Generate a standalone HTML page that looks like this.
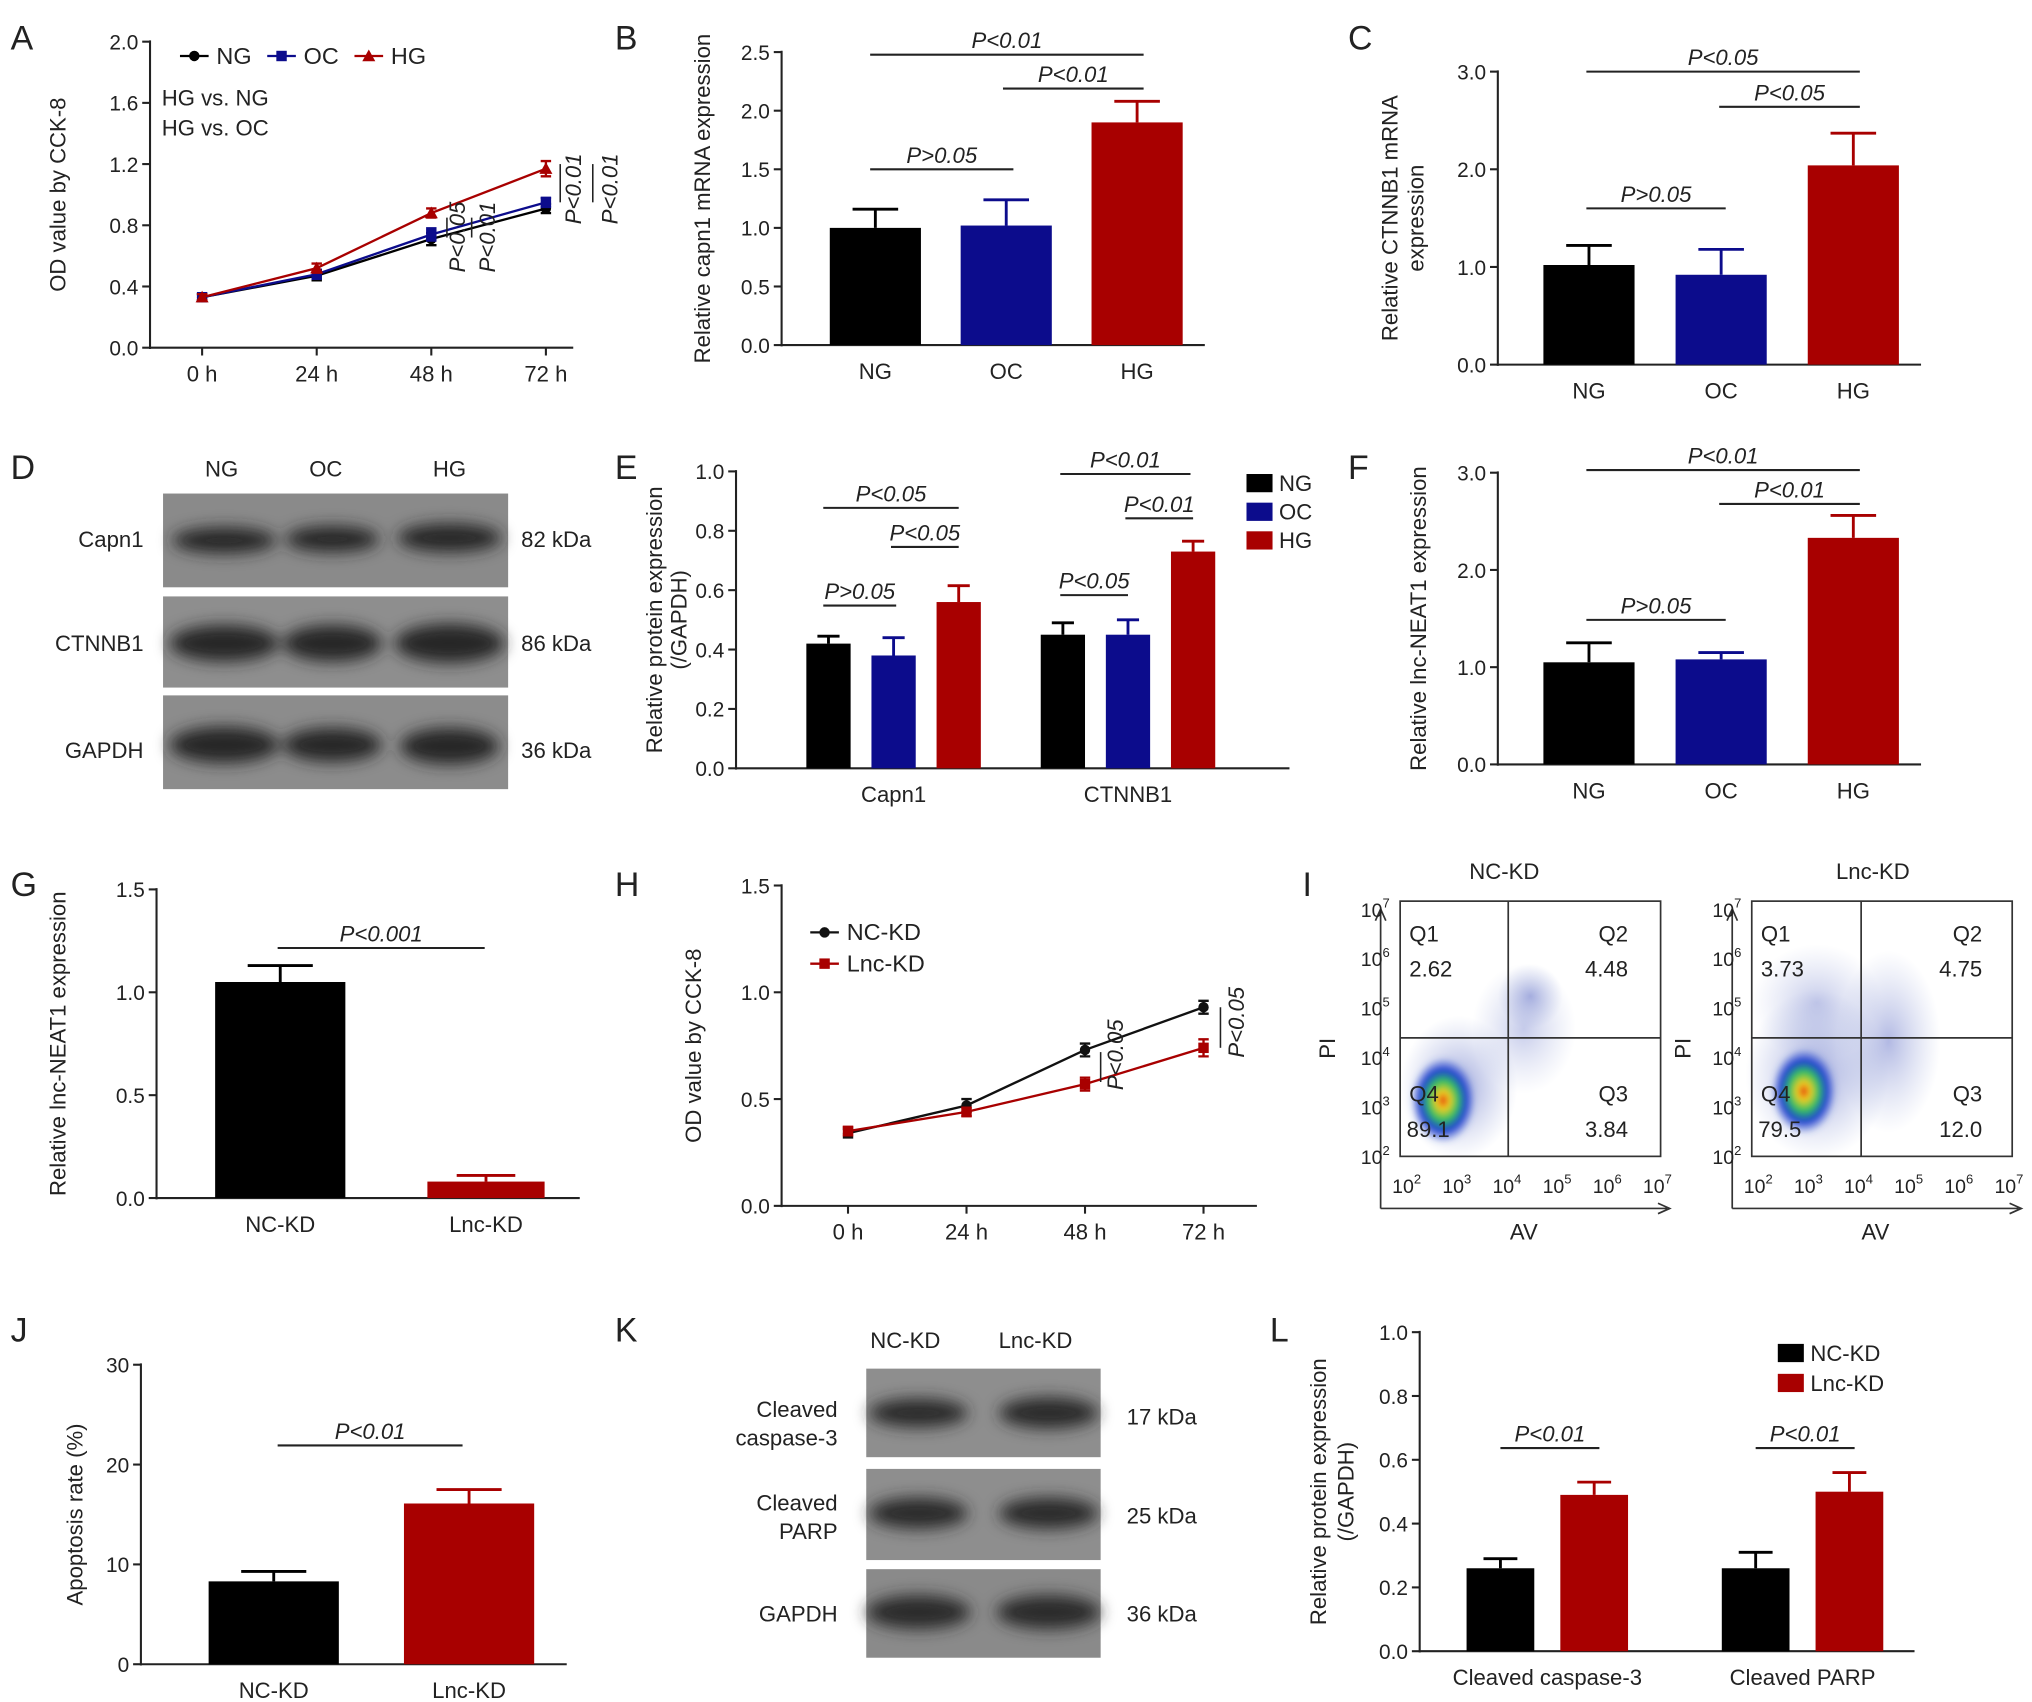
<!DOCTYPE html>
<html><head><meta charset="utf-8"><style>
html,body{margin:0;padding:0;background:#fff}
svg{display:block}
text{font-family:"Liberation Sans",Arial,sans-serif;fill:#222}
</style></head><body>
<svg id="fig" xmlns="http://www.w3.org/2000/svg" width="2032" height="1702" viewBox="0 0 1560 1307">
<defs>
<filter id="blur" x="-20%" y="-50%" width="140%" height="200%"><feGaussianBlur stdDeviation="6"/></filter>
<filter id="blur2"><feGaussianBlur stdDeviation="2"/></filter>
<radialGradient id="dens"><stop offset="0" stop-color="#e03010"/><stop offset="0.2" stop-color="#f0d020"/><stop offset="0.45" stop-color="#30c060"/><stop offset="0.7" stop-color="#2040d0"/><stop offset="1" stop-color="#4060d0" stop-opacity="0"/></radialGradient>
<radialGradient id="cloud"><stop offset="0" stop-color="#5060c0" stop-opacity="0.55"/><stop offset="1" stop-color="#8090d0" stop-opacity="0"/></radialGradient>
</defs>
<g font-size="26">
<text x="8" y="38">A</text>
<text x="472" y="38">B</text>
<text x="1035" y="38">C</text>
<text x="8" y="368">D</text>
<text x="472" y="368">E</text>
<text x="1035" y="368">F</text>
<text x="8" y="688">G</text>
<text x="472" y="688">H</text>
<text x="1000" y="688">I</text>
<text x="8" y="1030">J</text>
<text x="472" y="1030">K</text>
<text x="975" y="1030">L</text>
</g>
<g id="root"></g>

<g font-size="17">
<text x="170" y="366" text-anchor="middle">NG</text>
<text x="250" y="366" text-anchor="middle">OC</text>
<text x="345" y="366" text-anchor="middle">HG</text>
<rect x="125" y="379" width="265" height="72" fill="#8a8a8a"/>
<rect x="125" y="458" width="265" height="70" fill="#8e8e8e"/>
<rect x="125" y="534" width="265" height="72" fill="#8c8c8c"/>
<g filter="url(#blur)" fill="#252525">
<ellipse cx="172" cy="415" rx="40" ry="10"/><ellipse cx="255" cy="414" rx="36" ry="10"/><ellipse cx="345" cy="413" rx="40" ry="11"/>
<ellipse cx="172" cy="494" rx="42" ry="14"/><ellipse cx="255" cy="494" rx="38" ry="14"/><ellipse cx="345" cy="494" rx="42" ry="15"/>
<ellipse cx="172" cy="572" rx="42" ry="14"/><ellipse cx="255" cy="572" rx="38" ry="13"/><ellipse cx="345" cy="573" rx="38" ry="14"/>
</g>
<text x="110" y="420" text-anchor="end">Capn1</text>
<text x="110" y="500" text-anchor="end">CTNNB1</text>
<text x="110" y="582" text-anchor="end">GAPDH</text>
<text x="400" y="420">82 kDa</text>
<text x="400" y="500">86 kDa</text>
<text x="400" y="582">36 kDa</text>
</g>

<g font-size="17">
<text x="695" y="1035" text-anchor="middle">NC-KD</text>
<text x="795" y="1035" text-anchor="middle">Lnc-KD</text>
<rect x="665" y="1051" width="180" height="68" fill="#8e8e8e"/>
<rect x="665" y="1128" width="180" height="70" fill="#8e8e8e"/>
<rect x="665" y="1205" width="180" height="68" fill="#8a8a8a"/>
<g filter="url(#blur)" fill="#2a2a2a">
<ellipse cx="705" cy="1085" rx="38" ry="11"/><ellipse cx="805" cy="1085" rx="38" ry="12"/>
<ellipse cx="705" cy="1162" rx="38" ry="12"/><ellipse cx="805" cy="1162" rx="38" ry="12"/>
<ellipse cx="705" cy="1238" rx="40" ry="13"/><ellipse cx="805" cy="1238" rx="40" ry="13"/>
</g>
<text x="643" y="1088" text-anchor="end">Cleaved</text>
<text x="643" y="1110" text-anchor="end">caspase-3</text>
<text x="643" y="1160" text-anchor="end">Cleaved</text>
<text x="643" y="1182" text-anchor="end">PARP</text>
<text x="643" y="1245" text-anchor="end">GAPDH</text>
<text x="865" y="1094">17 kDa</text>
<text x="865" y="1170">25 kDa</text>
<text x="865" y="1245">36 kDa</text>
</g>

<g font-size="17">
<g>
<text x="1155" y="675" text-anchor="middle">NC-KD</text>
<ellipse cx="1120" cy="835" rx="45" ry="55" fill="url(#cloud)"/>
<ellipse cx="1170" cy="790" rx="40" ry="50" fill="url(#cloud)" opacity="0.6"/>
<ellipse cx="1175" cy="765" rx="25" ry="25" fill="url(#cloud)" opacity="0.8"/>
<ellipse cx="1108" cy="845" rx="25" ry="33" fill="url(#dens)" filter="url(#blur2)"/>
<rect x="1075" y="692" width="200" height="196" fill="none" stroke="#333" stroke-width="1.3"/>
<line x1="1158" y1="692" x2="1158" y2="888" stroke="#333" stroke-width="1.3"/>
<line x1="1075" y1="797" x2="1275" y2="797" stroke="#333" stroke-width="1.3"/>
<text x="1082" y="723">Q1</text>
<text x="1082" y="750">2.62</text>
<text x="1250" y="723" text-anchor="end">Q2</text>
<text x="1250" y="750" text-anchor="end">4.48</text>
<text x="1082" y="846">Q4</text>
<text x="1080" y="873">89.1</text>
<text x="1250" y="846" text-anchor="end">Q3</text>
<text x="1250" y="873" text-anchor="end">3.84</text>
<path d="M1060 928 L1280 928 M1273 924 L1282 928 L1273 932 M1060 928 L1060 700 M1056 707 L1060 698 L1064 707" stroke="#333" fill="none" stroke-width="1.3"/>
<text x="1170" y="952" text-anchor="middle">AV</text>
<text x="1025" y="805" text-anchor="middle" transform="rotate(-90 1025 805)">PI</text>
</g>
<g>
<text x="1438" y="675" text-anchor="middle">Lnc-KD</text>
<ellipse cx="1395" cy="825" rx="55" ry="65" fill="url(#cloud)"/>
<ellipse cx="1450" cy="800" rx="40" ry="70" fill="url(#cloud)" opacity="0.8"/>
<ellipse cx="1395" cy="770" rx="50" ry="45" fill="url(#cloud)" opacity="0.6"/>
<ellipse cx="1385" cy="838" rx="25" ry="33" fill="url(#dens)" filter="url(#blur2)"/>
<rect x="1345" y="692" width="200" height="196" fill="none" stroke="#333" stroke-width="1.3"/>
<line x1="1429" y1="692" x2="1429" y2="888" stroke="#333" stroke-width="1.3"/>
<line x1="1345" y1="797" x2="1545" y2="797" stroke="#333" stroke-width="1.3"/>
<text x="1352" y="723">Q1</text>
<text x="1352" y="750">3.73</text>
<text x="1522" y="723" text-anchor="end">Q2</text>
<text x="1522" y="750" text-anchor="end">4.75</text>
<text x="1352" y="846">Q4</text>
<text x="1350" y="873">79.5</text>
<text x="1522" y="846" text-anchor="end">Q3</text>
<text x="1522" y="873" text-anchor="end">12.0</text>
<path d="M1330 928 L1550 928 M1543 924 L1552 928 L1543 932 M1330 928 L1330 700 M1326 707 L1330 698 L1334 707" stroke="#333" fill="none" stroke-width="1.3"/>
<text x="1440" y="952" text-anchor="middle">AV</text>
<text x="1298" y="805" text-anchor="middle" transform="rotate(-90 1298 805)">PI</text>
</g>
</g>
<g id="flowticks" font-size="15"></g>
</svg>
<script>
const aCats = ['0 h','24 h','48 h','72 h'];
const aNG = [0.33,0.47,0.71,0.91];
const aOC = [0.33,0.48,0.74,0.95];
const aHG = [0.33,0.52,0.88,1.17];
const aErrNG = [0.02,0.03,0.04,0.03];
const aErrOC = [0.02,0.03,0.04,0.03];
const aErrHG = [0.02,0.03,0.03,0.05];
const aTicks = [0,0.4,0.8,1.2,1.6,2.0];
const aTickLabels = ['0.0','0.4','0.8','1.2','1.6','2.0'];

const grpCats = ['NG','OC','HG'];
const bVals = [1.0,1.02,1.9];
const bErrs = [0.16,0.22,0.18];
const bTicks = [0,0.5,1.0,1.5,2.0,2.5];
const bTickLabels = ['0.0','0.5','1.0','1.5','2.0','2.5'];

const cVals = [1.02,0.92,2.04];
const cErrs = [0.2,0.26,0.33];
const cTicks = [0,1,2,3];
const cTickLabels = ['0.0','1.0','2.0','3.0'];

const eGroups = ['Capn1','CTNNB1'];
const eNG = [0.42,0.45];
const eOC = [0.38,0.45];
const eHG = [0.56,0.73];
const eErrNG = [0.025,0.04];
const eErrOC = [0.06,0.05];
const eErrHG = [0.055,0.035];
const eTicks = [0,0.2,0.4,0.6,0.8,1.0];
const eTickLabels = ['0.0','0.2','0.4','0.6','0.8','1.0'];

const fVals = [1.05,1.08,2.33];
const fErrs = [0.2,0.07,0.23];

const kdCats = ['NC-KD','Lnc-KD'];
const gVals = [1.05,0.08];
const gErrs = [0.08,0.03];
const gTicks = [0,0.5,1.0,1.5];
const gTickLabels = ['0.0','0.5','1.0','1.5'];

const hNC = [0.34,0.47,0.73,0.93];
const hLnc = [0.35,0.44,0.57,0.74];
const hErrNC = [0.02,0.03,0.03,0.03];
const hErrLnc = [0.02,0.02,0.03,0.04];

const jVals = [8.3,16.1];
const jErrs = [1.0,1.4];
const jTicks = [0,10,20,30];
const jTickLabels = ['0','10','20','30'];

const lGroups = ['Cleaved caspase-3','Cleaved PARP'];
const lNC = [0.26,0.26];
const lLnc = [0.49,0.50];
const lErrNC = [0.03,0.05];
const lErrLnc = [0.04,0.06];

const NS='http://www.w3.org/2000/svg';
const root=document.getElementById('root');
const BLK='#000', BLU='#0c0c8c', RED='#a80000';
function mk(tag,attrs,parent){const e=document.createElementNS(NS,tag);for(const k in attrs)e.setAttribute(k,attrs[k]);(parent||root).appendChild(e);return e;}
function yScale(yb,yt,max){return v=>yb-(v/max)*(yb-yt);}

function yAxis(x,yb,yt,max,ticks,labels,title,titleX,name,gap){
  const y=yScale(yb,yt,max);
  const g2=gap||20;
  const ax=mk('line',{x1:x,y1:yb+1,x2:x,y2:yt-1,stroke:'#222','stroke-width':1.6});
  
  
  ticks.forEach((t,i)=>{
    const tk=mk('line',{x1:x-6,y1:y(t),x2:x,y2:y(t),stroke:'#222','stroke-width':1.6});
    
    
    const tl=mk('text',{x:x-9,y:y(t)+6,'text-anchor':'end','font-size':16});
    
    
    tl.textContent=labels[i];
  });
  const lines=Array.isArray(title)?title:[title];
  const cy=(yb+yt)/2;
  lines.forEach((s,i)=>{
    const tx=titleX+i*g2;
    const tt=mk('text',{x:tx,y:cy,'text-anchor':'middle','font-size':17,transform:`rotate(-90 ${tx} ${cy})`});
    
    
    tt.textContent=s;
  });
  return y;
}
function xAxis(x0,x1,yb,name){
  const ax=mk('line',{x1:x0,y1:yb,x2:x1,y2:yb,stroke:'#222','stroke-width':1.6});
  
  
}
function xLabel(x,yb,s,name,tick){
  if(tick){const t=mk('line',{x1:x,y1:yb,x2:x,y2:yb+6,stroke:'#222','stroke-width':1.6});
    
    }
  const l=mk('text',{x:x,y:yb+26,'text-anchor':'middle','font-size':17});
  
  
  l.textContent=s;
}
function bar(cx,w,y,v,e,color,name){
  const b=mk('rect',{x:cx-w/2,y:y(v),width:w,height:y(0)-y(v),fill:color});
  
  
  const eb=mk('path',{d:`M${cx} ${y(v)} V${y(v+e)} M${cx-w/4} ${y(v+e)} H${cx+w/4}`,stroke:color,'stroke-width':2.2,fill:'none'});
  
  
}
function sig(x1,x2,yy,s,name){
  const l=mk('line',{x1:x1,y1:yy,x2:x2,y2:yy,stroke:'#222','stroke-width':1.6});
  
  
  const t=mk('text',{x:(x1+x2)/2,y:yy-5,'text-anchor':'middle','font-size':17,'font-style':'italic'});
  
  
  t.textContent=s;
}
function legendBox(x,yy,color,s,name){
  const r=mk('rect',{x:x,y:yy-8,width:20,height:14,fill:color});
  
  
  const t=mk('text',{x:x+25,y:yy+5,'font-size':17});
  
  
  t.textContent=s;
}
function series(xs,y,vals,errs,color,marker,name){
  const pts=vals.map((v,i)=>xs(i)+','+y(v)).join(' ');
  const pl=mk('polyline',{points:pts,fill:'none',stroke:color,'stroke-width':1.8});
  
  
  vals.forEach((v,i)=>{
    const x=xs(i),e=errs[i];
    const eb=mk('path',{d:`M${x} ${y(v-e)} V${y(v+e)} M${x-4} ${y(v-e)} H${x+4} M${x-4} ${y(v+e)} H${x+4}`,stroke:color,'stroke-width':1.8,fill:'none'});
    
    
    let m;
    if(marker==='sq') m=mk('rect',{x:x-4,y:y(v)-4,width:8,height:8,fill:color});
    else if(marker==='tri') m=mk('path',{d:`M${x} ${y(v)-5} L${x+5} ${y(v)+4} L${x-5} ${y(v)+4}Z`,fill:color});
    else m=mk('circle',{cx:x,cy:y(v),r:4,fill:color});
    
    
  });
}
function legendLine(x,yy,color,marker,s,name){
  const l=mk('line',{x1:x,y1:yy,x2:x+22,y2:yy,stroke:color,'stroke-width':1.8});
  
  
  let m;
  if(marker==='sq') m=mk('rect',{x:x+7,y:yy-4,width:8,height:8,fill:color});
  else if(marker==='tri') m=mk('path',{d:`M${x+11} ${yy-5} L${x+16} ${yy+4} L${x+6} ${yy+4}Z`,fill:color});
  else m=mk('circle',{cx:x+11,cy:yy,r:4,fill:color});
  
  
  const t=mk('text',{x:x+28,y:yy+6,'font-size':18});
  
  
  t.textContent=s;
}
function vtext(x,yy,s,name){
  const t=mk('text',{x:x,y:yy,'text-anchor':'middle','font-size':17,'font-style':'italic',transform:`rotate(-90 ${x} ${yy})`});
  
  
  t.textContent=s;
}
function vline(x,y1,y2,name){
  const l=mk('line',{x1:x,y1:y1,x2:x,y2:y2,stroke:'#222','stroke-width':1.2});
  
  
}

{const y=yAxis(115,267,32,2.0,aTicks,aTickLabels,'OD value by CCK-8',50,'a');
 xAxis(115,440,267,'a');
 const xs=i=>155+i*88;
 aCats.forEach((c,i)=>xLabel(xs(i),267,c,'a',true));
 series(xs,y,aNG,aErrNG,BLK,'c','a-ng');
 series(xs,y,aOC,aErrOC,BLU,'sq','a-oc');
 series(xs,y,aHG,aErrHG,RED,'tri','a-hg');
 legendLine(138,43,BLK,'c','NG','a-legend-ng');
 legendLine(205,43,BLU,'sq','OC','a-legend-oc');
 legendLine(272,43,RED,'tri','HG','a-legend-hg');
 let t=mk('text',{x:124,y:81,'font-size':17});t.textContent='HG vs. NG';
 t=mk('text',{x:124,y:104,'font-size':17});t.textContent='HG vs. OC';
 vline(343,y(0.85),y(0.72),'a-sig-48-1'); vtext(357,182,'P<0.05','a-sig-48-1-label');
 vline(362,y(0.85),y(0.72),'a-sig-48-2'); vtext(380,182,'P<0.01','a-sig-48-2-label');
 vline(430,y(1.2),y(0.95),'a-sig-72-1'); vtext(446,145,'P<0.01','a-sig-72-1-label');
 vline(455,y(1.2),y(0.95),'a-sig-72-2'); vtext(474,145,'P<0.01','a-sig-72-2-label');
}
{const y=yAxis(600,265,40,2.5,bTicks,bTickLabels,'Relative capn1 mRNA expression',545,'b');
 xAxis(600,925,265,'b');
 const xs=i=>672+i*100.5;
 grpCats.forEach((c,i)=>{bar(xs(i),70,y,bVals[i],bErrs[i],[BLK,BLU,RED][i],'b-bar-'+c.toLowerCase());xLabel(xs(i),265,c,'b',false);});
 sig(668,778,130,'P>0.05','b-sig-ng-oc');
 sig(668,878,42,'P<0.01','b-sig-ng-hg');
 sig(770,878,68,'P<0.01','b-sig-oc-hg');
}
{const y=yAxis(1150,280,55,3.0,cTicks,cTickLabels,['Relative CTNNB1 mRNA','expression'],1073,'c');
 xAxis(1150,1475,280,'c');
 const xs=i=>1220+i*101.5;
 grpCats.forEach((c,i)=>{bar(xs(i),70,y,cVals[i],cErrs[i],[BLK,BLU,RED][i],'c-bar-'+c.toLowerCase());xLabel(xs(i),280,c,'c',false);});
 sig(1218,1325,160,'P>0.05','c-sig-ng-oc');
 sig(1218,1428,55,'P<0.05','c-sig-ng-hg');
 sig(1320,1428,82,'P<0.05','c-sig-oc-hg');
}
{const y=yAxis(565,590,362,1.0,eTicks,eTickLabels,['Relative protein expression','(/GAPDH)'],508,'e',19);
 xAxis(565,990,590,'e');
 const gx=g=>636+g*180, bx=(g,j)=>gx(g)+j*50;
 eGroups.forEach((gname,g)=>{
   bar(bx(g,0),34,y,eNG[g],eErrNG[g],BLK,'e-bar-ng-'+g);
   bar(bx(g,1),34,y,eOC[g],eErrOC[g],BLU,'e-bar-oc-'+g);
   bar(bx(g,2),34,y,eHG[g],eErrHG[g],RED,'e-bar-hg-'+g);
   xLabel(bx(g,1),590,gname,'e',false);
 });
 sig(632,688,465,'P>0.05','e-sig-capn1-ng-oc');
 sig(684,736,420,'P<0.05','e-sig-capn1-oc-hg');
 sig(632,736,390,'P<0.05','e-sig-capn1-ng-hg');
 sig(814,866,457,'P<0.05','e-sig-ctnnb1-ng-oc');
 sig(814,914,364,'P<0.01','e-sig-ctnnb1-ng-hg');
 sig(864,916,398,'P<0.01','e-sig-ctnnb1-oc-hg');
 legendBox(957,372,BLK,'NG','e-legend-ng');
 legendBox(957,394,BLU,'OC','e-legend-oc');
 legendBox(957,416,RED,'HG','e-legend-hg');
}
{const y=yAxis(1150,587,363,3.0,cTicks,cTickLabels,'Relative lnc-NEAT1 expression',1095,'f');
 xAxis(1150,1475,587,'f');
 const xs=i=>1220+i*101.5;
 grpCats.forEach((c,i)=>{bar(xs(i),70,y,fVals[i],fErrs[i],[BLK,BLU,RED][i],'f-bar-'+c.toLowerCase());xLabel(xs(i),587,c,'f',false);});
 sig(1218,1325,476,'P>0.05','f-sig-ng-oc');
 sig(1218,1428,361,'P<0.01','f-sig-ng-hg');
 sig(1320,1428,387,'P<0.01','f-sig-oc-hg');
}
{const y=yAxis(120,920,683,1.5,gTicks,gTickLabels,'Relative lnc-NEAT1 expression',50,'g');
 xAxis(120,445,920,'g');
 const xs=i=>215+i*158;
 kdCats.forEach((c,i)=>{bar(xs(i),i?90:100,y,gVals[i],gErrs[i],[BLK,RED][i],'g-bar-'+c.toLowerCase());xLabel(xs(i),920,c,'g',false);});
 sig(213,372,728,'P<0.001','g-sig');
}
{const y=yAxis(600,926,680,1.5,gTicks,gTickLabels,'OD value by CCK-8',538,'h');
 xAxis(600,965,926,'h');
 const xs=i=>651+i*91;
 aCats.forEach((c,i)=>xLabel(xs(i),926,c,'h',true));
 series(xs,y,hNC,hErrNC,'#111','c','h-nc-kd');
 series(xs,y,hLnc,hErrLnc,RED,'sq','h-lnc-kd');
 legendLine(622,716,'#111','c','NC-KD','h-legend-nc');
 legendLine(622,740,RED,'sq','Lnc-KD','h-legend-lnc');
 vline(845,y(0.72),y(0.58),'h-sig-48'); vtext(862,810,'P<0.05','h-sig-48-label');
 vline(937,y(0.93),y(0.74),'h-sig-72'); vtext(955,785,'P<0.05','h-sig-72-label');
}
{const y=yAxis(108,1278,1048,30,jTicks,jTickLabels,'Apoptosis rate (%)',63,'j');
 xAxis(108,435,1278,'j');
 const xs=i=>210+i*150;
 kdCats.forEach((c,i)=>{bar(xs(i),100,y,jVals[i],jErrs[i],[BLK,RED][i],'j-bar-'+c.toLowerCase());xLabel(xs(i),1278,c,'j',false);});
 sig(213,355,1110,'P<0.01','j-sig');
}
{const y=yAxis(1090,1268,1023,1.0,eTicks,eTickLabels,['Relative protein expression','(/GAPDH)'],1018,'l',21);
 xAxis(1090,1470,1268,'l');
 const gx=g=>1152+g*196;
 lGroups.forEach((gname,g)=>{
   bar(gx(g),52,y,lNC[g],lErrNC[g],BLK,'l-bar-nc-'+g);
   bar(gx(g)+72,52,y,lLnc[g],lErrLnc[g],RED,'l-bar-lnc-'+g);
   xLabel(gx(g)+36,1268,gname,'l',false);
 });
 sig(1152,1228,1112,'P<0.01','l-sig-caspase');
 sig(1348,1424,1112,'P<0.01','l-sig-parp');
 legendBox(1365,1040,BLK,'NC-KD','l-legend-nc');
 legendBox(1365,1063,RED,'Lnc-KD','l-legend-lnc');
}
{const ft=document.getElementById('flowticks');
 const exps=['2','3','4','5','6','7'];
 [1075,1345].forEach((bx,p)=>{
   exps.forEach((e,i)=>{
     const yy=888-i*38;
     const t=mk('text',{x:bx-8,y:yy+6,'text-anchor':'end','font-size':15},ft);
     
     
     t.innerHTML='10<tspan dy="-7" font-size="10">'+e+'</tspan>';
     const xx=bx+5+i*38.5;
     const t2=mk('text',{x:xx,y:916,'text-anchor':'middle','font-size':15},ft);
     
     
     t2.innerHTML='10<tspan dy="-7" font-size="10">'+e+'</tspan>';
   });
 });
}
</script>
</body></html>
